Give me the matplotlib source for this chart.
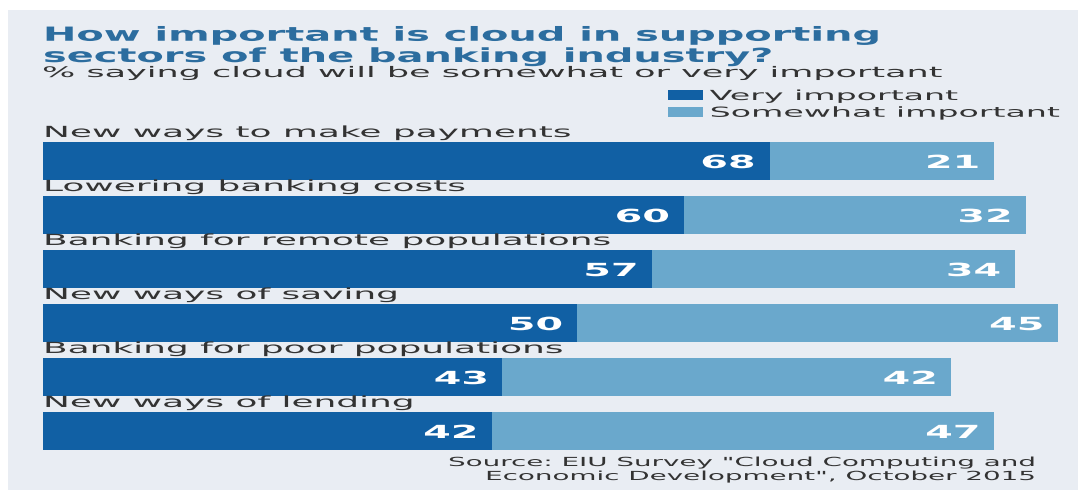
import matplotlib
matplotlib.use("Agg")
import matplotlib.pyplot as plt
from matplotlib.patches import Rectangle
from matplotlib.patheffects import AbstractPathEffect
from matplotlib.transforms import Affine2D

sectors = [
    "New ways to make payments",
    "Lowering banking costs",
    "Banking for remote populations",
    "New ways of saving",
    "Banking for poor populations",
    "New ways of lending",
]
very_important = [68, 60, 57, 50, 43, 42]
somewhat_important = [21, 32, 34, 45, 42, 47]

DARK = "#1160a4"
LIGHT = "#6aa8cc"
PANEL = "#e9edf3"
TITLE_BLUE = "#2c6d9f"
INK = "#333333"


class Widen(AbstractPathEffect):
    """Draw the text path stretched horizontally around its anchor."""

    def __init__(self, sx, anchor="left"):
        super().__init__()
        self.sx = sx
        self.anchor = anchor

    def draw_path(self, renderer, gc, tpath, affine, rgbFace=None):
        box = tpath.get_extents(affine)
        if self.anchor == "right":
            x0 = box.x1
        elif self.anchor == "center":
            x0 = (box.x0 + box.x1) / 2
        else:
            x0 = affine.get_matrix()[0, 2]
        stretched = affine + Affine2D().translate(-x0, 0).scale(self.sx, 1).translate(x0, 0)
        renderer.draw_path(gc, tpath, stretched, rgbFace)


def wide(sx, anchor="left"):
    return [Widen(sx, anchor)]


W, H = 1084, 490
fig = plt.figure(figsize=(W / 100, H / 100), dpi=100)
fig.patch.set_facecolor("white")
fig.patches.append(Rectangle((8 / W, 0), 1070 / W, 1 - 10 / H, transform=fig.transFigure,
                             facecolor=PANEL, edgecolor="none", zorder=-5))

# bar area: rows spaced ~54px, first bar centred at y=161px
ax = fig.add_axes([43 / W, 1 - 458 / H, 1015 / W, 324 / H])
ax.set_facecolor("none")
ax.set_zorder(2)
rows = list(range(len(sectors)))
bar_h = 0.71
b1 = ax.barh(rows, very_important, height=bar_h, color=DARK, label="Very important")
b2 = ax.barh(rows, somewhat_important, left=very_important, height=bar_h, color=LIGHT,
             label="Somewhat important")
ax.set_xlim(0, 95)
ax.set_ylim(len(sectors) - 0.5, -0.5)
ax.axis("off")

for i, name in enumerate(sectors):
    t = ax.text(0, i - bar_h / 2 - 0.09, name, ha="left", va="baseline",
                fontsize=11, color=INK)
    t.set_path_effects(wide(2.35))

for bars, vals in ((b1, very_important), (b2, somewhat_important)):
    for rect, v in zip(bars, vals):
        t = ax.annotate(str(v), (rect.get_x() + rect.get_width(), rect.get_y() + rect.get_height() / 2),
                        xytext=(-11, 0), textcoords="offset points", ha="right",
                        va="center_baseline", fontsize=13, fontweight="bold", color="white")
        t.set_path_effects(wide(2.2, "right"))

t = fig.text(43 / W, 1 - 62 / H, "How important is cloud in supporting\nsectors of the banking industry?",
             ha="left", va="baseline", fontsize=14, fontweight="bold", color=TITLE_BLUE,
             linespacing=1.15)
t.set_path_effects(wide(2.05))

t = fig.text(42 / W, 1 - 77 / H, "% saying cloud will be somewhat or very important",
             ha="left", va="baseline", fontsize=10.5, color=INK)
t.set_path_effects(wide(2.4))

leg = fig.legend(handles=[b1, b2], loc="upper left", bbox_to_anchor=(668 / W, 1 - 89 / H),
                 frameon=False, fontsize=10, handlelength=2.5, handleheight=0.75,
                 handletextpad=0.5, labelspacing=0.2, borderpad=0, borderaxespad=0)
for lt in leg.get_texts():
    lt.set_color(INK)
    lt.set_path_effects(wide(2.39))

t = fig.text(1035 / W, 1 - 480 / H,
             "Source: EIU Survey \"Cloud Computing and\nEconomic Development\", October 2015",
             ha="right", va="baseline", fontsize=9, color=INK, linespacing=1.1)
t.set_path_effects(wide(2.22, "right"))

fig.savefig("out.png", dpi=100, facecolor=fig.get_facecolor())
